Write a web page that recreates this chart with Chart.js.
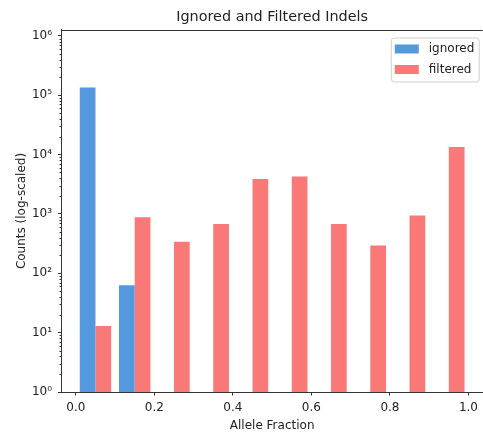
<!DOCTYPE html>
<html>
<head>
<meta charset="utf-8">
<script src="https://cdn.jsdelivr.net/npm/chart.js@4/dist/chart.umd.min.js"></script>
<style>
  html, body { margin: 0; padding: 0; background: #fff; }
  #chart { display: block; }
</style>
</head>
<body>
<canvas id="chart" width="483" height="433"></canvas>
<script>
// Histogram data (bin centres, counts per bin)
const binCenters = [0.05, 0.15, 0.25, 0.35, 0.45, 0.55, 0.65, 0.75, 0.85, 0.95];
const ignoredCounts = [135000, 63, 0, 0, 0, 0, 0, 0, 0, 0];
const filteredCounts = [13, 880, 340, 680, 3900, 4300, 680, 295, 940, 13400];
const xTicks = [0, 0.2, 0.4, 0.6, 0.8, 1.0];
const yTicks = [1, 10, 100, 1000, 10000, 100000, 1000000];
const titleText = 'Ignored and Filtered Indels';

const FONT = 'DejaVu Sans';
const TEXT = '#222';
const AXIS = '#333';
const SUP = {'0': '\u2070', '1': '\u00B9', '2': '\u00B2', '3': '\u00B3', '4': '\u2074', '5': '\u2075', '6': '\u2076'};

function toPoints(counts) {
  return binCenters.map((x, i) => ({ x: x, y: counts[i] > 0 ? counts[i] : null }));
}

// Minor log ticks + top spine
const axisExtras = {
  id: 'axisExtras',
  afterDraw(chart) {
    const ctx = chart.ctx;
    const y = chart.scales.y;
    const ca = chart.chartArea;
    ctx.save();
    ctx.strokeStyle = AXIS;
    ctx.lineWidth = 1;
    ctx.beginPath();
    for (let k = 0; k < 6; k++) {
      for (let m = 2; m <= 9; m++) {
        const v = m * Math.pow(10, k);
        if (v > y.max) continue;
        const py = Math.round(y.getPixelForValue(v)) + 0.5;
        ctx.moveTo(ca.left - 2, py);
        ctx.lineTo(ca.left, py);
      }
    }
    ctx.moveTo(ca.left, Math.round(ca.top) + 0.5);
    ctx.lineTo(ca.right, Math.round(ca.top) + 0.5);
    ctx.stroke();
    ctx.restore();
  }
};

// matplotlib-style legend box in the upper right corner
const boxLegend = {
  id: 'boxLegend',
  afterDraw(chart) {
    const ctx = chart.ctx;
    const ca = chart.chartArea;
    const w = 88, h = 44;
    const left = ca.right - 4 - w;
    const top = ca.top + 7.5;
    ctx.save();
    ctx.beginPath();
    ctx.roundRect(left + 0.5, top + 0.5, w, h, 3);
    ctx.fillStyle = 'rgba(255,255,255,0.8)';
    ctx.fill();
    ctx.strokeStyle = '#d0d0d0';
    ctx.lineWidth = 1;
    ctx.stroke();
    ctx.font = '12px "' + FONT + '"';
    ctx.textBaseline = 'middle';
    chart.data.datasets.forEach((ds, i) => {
      const cy = top + 11.5 + i * 20.5;
      ctx.fillStyle = ds.backgroundColor;
      ctx.fillRect(left + 4, cy - 4.5, 24, 9);
      ctx.fillStyle = TEXT;
      ctx.fillText(ds.label, left + 38, cy);
    });
    ctx.restore();
  }
};

new Chart(document.getElementById('chart'), {
  type: 'bar',
  data: {
    datasets: [
      {
        label: 'ignored',
        data: toPoints(ignoredCounts),
        backgroundColor: '#5498DE',
        borderWidth: 0
      },
      {
        label: 'filtered',
        data: toPoints(filteredCounts),
        backgroundColor: '#F97878',
        borderWidth: 0
      }
    ]
  },
  options: {
    responsive: false,
    animation: false,
    devicePixelRatio: 1,
    layout: { padding: 0 },
    categoryPercentage: 0.8,
    barPercentage: 1.0,
    plugins: {
      legend: { display: false },
      tooltip: { enabled: false },
      title: {
        display: true,
        text: titleText,
        fullSize: false,
        color: TEXT,
        font: { family: FONT, size: 14.4, weight: 'normal', lineHeight: 1.2 },
        padding: { top: 8.7, bottom: 4 }
      }
    },
    scales: {
      x: {
        type: 'linear',
        min: -0.0365,
        max: 1.0365,
        offset: false,
        grid: {
          display: true,
          drawOnChartArea: false,
          drawTicks: true,
          tickLength: 3.5,
          tickColor: AXIS,
          offset: false
        },
        border: { display: true, color: AXIS, width: 1 },
        ticks: {
          color: TEXT,
          font: { family: FONT, size: 12 },
          padding: 5,
          autoSkip: false,
          maxRotation: 0,
          callback: v => v.toFixed(1)
        },
        afterBuildTicks: s => { s.ticks = xTicks.map(v => ({ value: v })); },
        afterFit: s => { s.height = 41; },
        title: {
          display: true,
          text: 'Allele Fraction',
          color: TEXT,
          font: { family: FONT, size: 12, lineHeight: 1.2 },
          padding: { top: 0, bottom: 0 }
        }
      },
      y: {
        type: 'logarithmic',
        min: 1,
        max: 1.26e6,
        beginAtZero: false,
        grid: {
          display: true,
          drawOnChartArea: false,
          drawTicks: true,
          tickLength: 3.5,
          tickColor: AXIS
        },
        border: { display: true, color: AXIS, width: 1 },
        ticks: {
          color: TEXT,
          font: { family: FONT, size: 12 },
          padding: 6,
          autoSkip: false,
          callback: v => '10' + SUP[String(Math.round(Math.log10(v)))]
        },
        afterBuildTicks: s => { s.ticks = yTicks.map(v => ({ value: v, major: true })); },
        afterFit: s => { s.width = 61.5; },
        title: {
          display: true,
          text: 'Counts (log-scaled)',
          color: TEXT,
          font: { family: FONT, size: 12, lineHeight: 1.2 },
          padding: { top: 15, bottom: 0 }
        }
      }
    }
  },
  plugins: [axisExtras, boxLegend]
});
</script>
</body>
</html>
